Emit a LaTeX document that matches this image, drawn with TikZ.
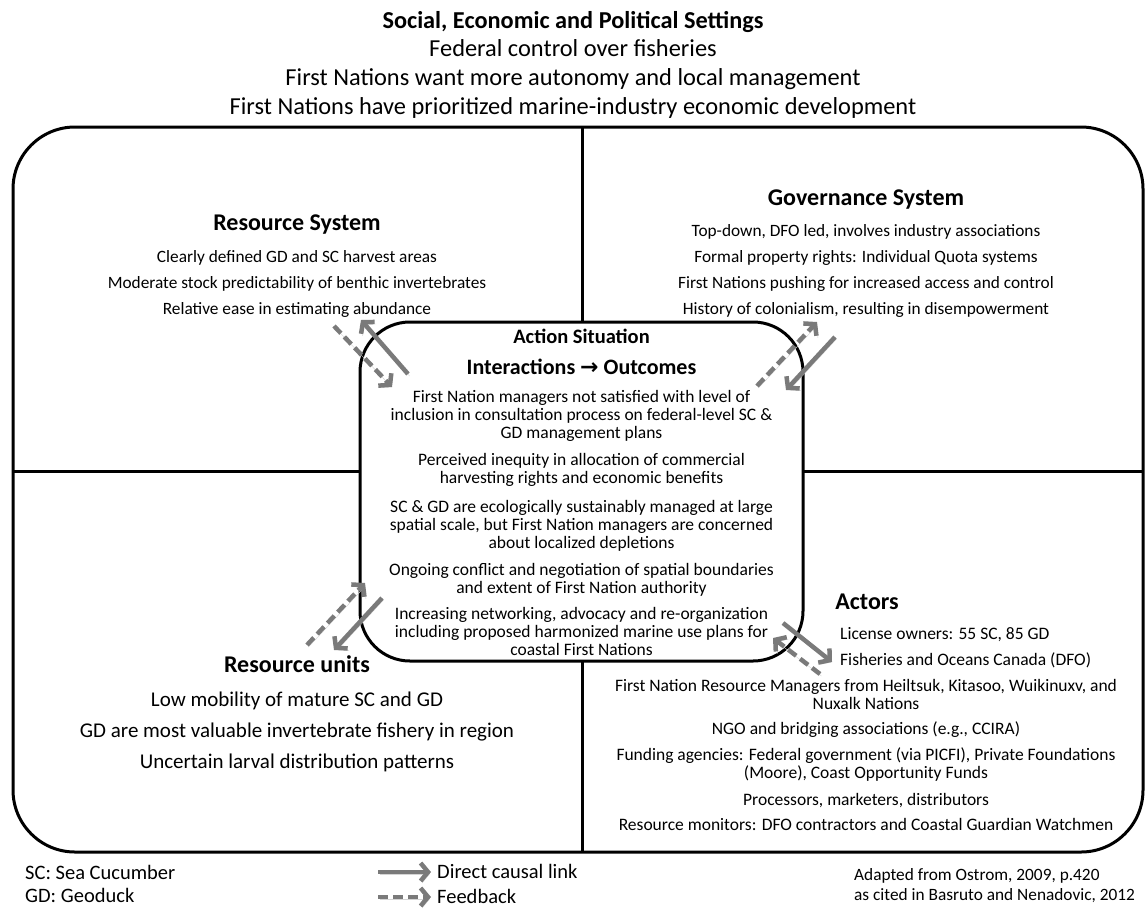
\documentclass[tikz,border=0pt]{standalone}
\usepackage{fontspec}
\setmainfont{Carlito}
\newfontfamily\symfont{DejaVu Sans}
\usetikzlibrary{arrows.meta}
\definecolor{arrgray}{HTML}{7A7A7A}
\definecolor{shadegray}{HTML}{D4D4D4}
\tikzset{
  ttlbold/.style={font=\fontsize{24.3}{29}\selectfont\bfseries, anchor=base, inner sep=0pt},
  ttl/.style={font=\fontsize{24.4}{29}\selectfont, anchor=base, inner sep=0pt},
  headtxt/.style={font=\fontsize{24}{29}\selectfont\bfseries, anchor=base, inner sep=0pt},
  asit/.style={font=\fontsize{20.5}{24}\selectfont\bfseries, anchor=base, inner sep=0pt},
  inter/.style={font=\fontsize{22}{26}\selectfont\bfseries, anchor=base, inner sep=0pt},
  bodytxt/.style={font=\fontsize{17.5}{21}\selectfont, anchor=base, inner sep=0pt},
  systxt/.style={font=\fontsize{17.3}{21}\selectfont, anchor=base, inner sep=0pt},
  unittxt/.style={font=\fontsize{21}{25}\selectfont, anchor=base, inner sep=0pt},
  legtxt/.style={font=\fontsize{20.5}{24}\selectfont, anchor=base west, inner sep=0pt},
  srctxt/.style={font=\fontsize{17.3}{21}\selectfont, anchor=base west, inner sep=0pt},
  boxline/.style={line width=3pt, black},
  causal/.style={draw=arrgray, line width=4.5pt, -{Straight Barb[length=7.5pt,width=18pt]}},
  feedbk/.style={causal, dash pattern=on 10pt off 5pt},
  shadowed/.style={preaction={draw=shadegray, transform canvas={shift={(1.5pt,-2pt)}}}},
}
\begin{document}
\begin{tikzpicture}[x=1pt, y=-1pt]
\useasboundingbox (0,0) rectangle (1145,908);
% title
\node[ttlbold] (t0) at (573,28) {Social, Economic and Political Settings};
\node[ttl] (t1) at (573,56) {Federal control over fisheries};
\node[ttl] (t2) at (573,85) {First Nations want more autonomy and local management};
\node[ttl] (t3) at (573,114) {First Nations have prioritized marine-industry economic development};
% frame
\draw[boxline, rounded corners=62pt] (13,127) rectangle (1143,852);
\draw[boxline] (582,127) -- (582,852);
\draw[boxline] (13,471) -- (1143,471);
\draw[boxline, fill=white, rounded corners=50pt] (360,322) rectangle (803,661);
% resource system
\node[headtxt] (rs) at (297,230) {Resource System};
\node[systxt] (rs1) at (297,262) {Clearly defined GD and SC harvest areas};
\node[systxt] (rs2) at (297,288) {Moderate stock predictability of benthic invertebrates};
\node[systxt] (rs3) at (297,314) {Relative ease in estimating abundance};
% governance
\node[headtxt] (gs) at (866,205) {Governance System};
\node[systxt] (gs1) at (866,236) {Top-down, DFO led, involves industry associations};
\node[systxt] (gs2) at (866,262) {Formal property rights: Individual Quota systems};
\node[systxt] (gs3) at (866,288) {First Nations pushing for increased access and control};
\node[systxt] (gs4) at (866,314) {History of colonialism, resulting in disempowerment};
% action situation
\node[asit] (as) at (581.5,343) {Action Situation};
\node[inter] (ai) at (581.5,374) {Interactions {\symfont →} Outcomes};
\node[bodytxt] (a11) at (581.5,402) {First Nation managers not satisfied with level of};
\node[bodytxt] (a12) at (581.5,420) {inclusion in consultation process on federal-level SC \&};
\node[bodytxt] (a13) at (581.5,438) {GD management plans};
\node[bodytxt] (a21) at (581.5,465) {Perceived inequity in allocation of commercial};
\node[bodytxt] (a22) at (581.5,483) {harvesting rights and economic benefits};
\node[bodytxt] (a31) at (581.5,512) {SC \& GD are ecologically sustainably managed at large};
\node[bodytxt] (a32) at (581.5,530) {spatial scale, but First Nation managers are concerned};
\node[bodytxt] (a33) at (581.5,548) {about localized depletions};
\node[bodytxt] (a41) at (581.5,575) {Ongoing conflict and negotiation of spatial boundaries};
\node[bodytxt] (a42) at (581.5,593) {and extent of First Nation authority};
\node[bodytxt] (a51) at (581.5,619) {Increasing networking, advocacy and re-organization};
\node[bodytxt] (a52) at (581.5,637) {including proposed harmonized marine use plans for};
\node[bodytxt] (a53) at (581.5,655) {coastal First Nations};
% resource units
\node[headtxt] (ru) at (297,672) {Resource units};
\node[unittxt] (ru1) at (297,706) {Low mobility of mature SC and GD};
\node[unittxt] (ru2) at (297,737) {GD are most valuable invertebrate fishery in region};
\node[unittxt] (ru3) at (297,768) {Uncertain larval distribution patterns};
% actors
\node[headtxt] (ac) at (867,609) {Actors};
\node[bodytxt, anchor=base west] (ac1) at (840,639) {License owners: 55 SC, 85 GD};
\node[bodytxt, anchor=base west] (ac2) at (840,665) {Fisheries and Oceans Canada (DFO)};
\node[bodytxt] (ac3) at (866,691) {First Nation Resource Managers from Heiltsuk, Kitasoo, Wuikinuxv, and};
\node[bodytxt] (ac4) at (866,709) {Nuxalk Nations};
\node[bodytxt] (ac5) at (866,734) {NGO and bridging associations (e.g., CCIRA)};
\node[bodytxt] (ac6) at (866,760) {Funding agencies: Federal government (via PICFI), Private Foundations};
\node[bodytxt] (ac7) at (866,778) {(Moore), Coast Opportunity Funds};
\node[bodytxt] (ac8) at (866,805) {Processors, marketers, distributors};
\node[bodytxt] (ac9) at (866,830) {Resource monitors: DFO contractors and Coastal Guardian Watchmen};
% arrow end points
\coordinate (p1a) at (408,374); \coordinate (p1b) at (361,320);
\coordinate (p2a) at (334,326); \coordinate (p2b) at (392,387);
\coordinate (p3a) at (757,386); \coordinate (p3b) at (817,322);
\coordinate (p4a) at (835,337); \coordinate (p4b) at (786,390);
\coordinate (p5a) at (307,645); \coordinate (p5b) at (365,583);
\coordinate (p6a) at (382,598); \coordinate (p6b) at (334,650);
\coordinate (p7a) at (783,623); \coordinate (p7b) at (832,662);
\coordinate (p8a) at (820,674); \coordinate (p8b) at (773,638);
\draw[causal, shadowed] (p1a) -- (p1b);
\draw[feedbk, shadowed] (p2a) -- (p2b);
\draw[feedbk, shadowed] (p3a) -- (p3b);
\draw[causal, shadowed] (p4a) -- (p4b);
\draw[feedbk, shadowed] (p5a) -- (p5b);
\draw[causal, shadowed] (p6a) -- (p6b);
\draw[causal, shadowed] (p7a) -- (p7b);
\draw[feedbk, shadowed] (p8a) -- (p8b);
% legend
\node[legtxt] (lg1) at (25,879) {SC: Sea Cucumber};
\node[legtxt] (lg2) at (25,902) {GD: Geoduck};
\node[legtxt] (lg3) at (437,878) {Direct causal link};
\node[legtxt] (lg4) at (437,903) {Feedback};
\coordinate (l1a) at (378,872); \coordinate (l1b) at (431,872);
\coordinate (l2a) at (378,897); \coordinate (l2b) at (431,897);
\draw[causal, shadowed] (l1a) -- (l1b);
\draw[feedbk, shadowed] (l2a) -- (l2b);
\node[srctxt] (src1) at (854,880) {Adapted from Ostrom, 2009, p.420};
\node[srctxt] (src2) at (854,900) {as cited in Basruto and Nenadovic, 2012};
\end{tikzpicture}
\end{document}
